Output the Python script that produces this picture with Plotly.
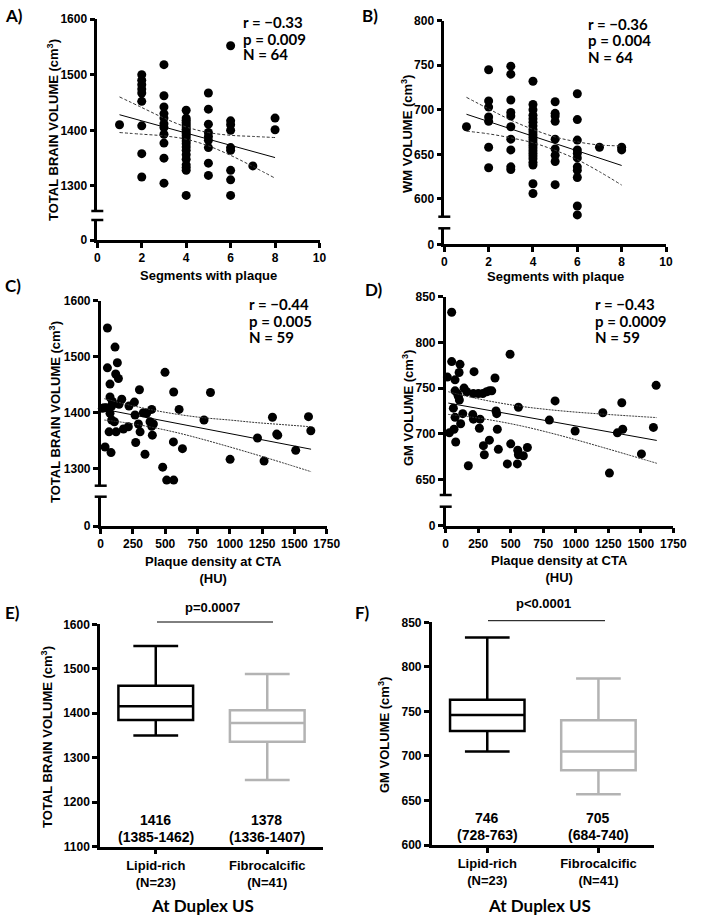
import plotly.graph_objects as go

W, H = 703, 917

# ---------------- data ----------------
# Panel A: segments with plaque vs total brain volume
A_segments = ([1] + [2]*9 + [3]*11 + [4]*21 + [5]*9 + [6]*10 + [7] + [8]*2)
A_tbv = ([1410]
         + [1500, 1490, 1482, 1474, 1467, 1452, 1408, 1358, 1316]
         + [1518, 1462, 1442, 1430, 1422, 1412, 1405, 1393, 1377, 1350, 1305]
         + [1436, 1422, 1418, 1414, 1410, 1406, 1402, 1398, 1394, 1390, 1386,
            1381, 1376, 1370, 1364, 1356, 1348, 1338, 1333, 1328, 1283]
         + [1467, 1438, 1411, 1396, 1389, 1382, 1369, 1341, 1319]
         + [1552, 1417, 1410, 1400, 1369, 1364, 1328, 1311, 1283, 1250]
         + [1336]
         + [1422, 1401])
A_fit_x = [1, 2, 3, 4, 5, 6, 7, 8]
A_fit = [1428, 1417, 1406, 1395, 1384, 1373, 1362, 1351]
A_upper = [1460, 1441, 1422, 1406, 1396, 1391, 1389, 1387]
A_lower = [1396, 1393, 1390, 1384, 1372, 1355, 1335, 1314]

# Panel B: segments with plaque vs WM volume
B_segments = ([1] + [2]*7 + [3]*10 + [4]*23 + [5]*9 + [6]*11 + [7] + [8]*2)
B_wm = ([681]
        + [745, 710, 703, 692, 687, 658, 635]
        + [749, 740, 711, 697, 693, 681, 667, 655, 636, 633]
        + [732, 706, 700, 694, 690, 686, 682, 678, 675, 672, 669, 666, 663,
           660, 657, 654, 651, 648, 645, 641, 638, 617, 606]
        + [709, 696, 693, 687, 667, 656, 649, 642, 616]
        + [718, 689, 666, 655, 651, 646, 636, 632, 624, 592, 582]
        + [658]
        + [658, 655])
B_fit_x = [1, 2, 3, 4, 5, 6, 7, 8]
B_fit = [695, 686.8, 678.5, 670.3, 662, 653.8, 645.7, 637.5]
B_upper = [714, 701, 688.5, 678, 669.5, 664, 660.5, 659.5]
B_lower = [676, 673, 668.5, 663, 654.5, 644, 630.5, 615.5]

# Panel C: plaque density vs total brain volume
C_hu = [52, 111, 129, 52, 116, 137, 72, 300, 498, 565,
        850, 72, 163, 142, 219, 261, 85, 13, 46, 607,
        395, 330, 356, 266, 72, 85, 106, 176, 214, 292,
        382, 395, 408, 65, 119, 305, 400, 800, 1330, 1609,
        1627, 1363, 1371, 1214, 271, 563, 34, 633, 1510, 80,
        343, 1002, 1265, 480, 511, 565, 558, 28, 90]
C_tbv = [1551, 1517, 1489, 1480, 1469, 1461, 1451, 1441, 1472, 1437,
         1436, 1428, 1424, 1415, 1412, 1419, 1412, 1408, 1409, 1406,
         1406, 1400, 1399, 1396, 1399, 1387, 1384, 1371, 1375, 1380,
         1384, 1376, 1380, 1366, 1366, 1366, 1360, 1387, 1392, 1393,
         1368, 1362, 1360, 1355, 1347, 1348, 1339, 1336, 1333, 1329,
         1326, 1317, 1314, 1303, 1280, 1280, 1248, 1409, 1420]
C_fit_x = [28, 200, 400, 600, 800, 1000, 1200, 1400, 1629]
C_fit = [1406, 1398.4, 1389.5, 1380.6, 1371.8, 1362.9, 1354, 1345.2, 1335]
C_upper = [1425, 1415, 1405, 1397, 1391, 1387, 1382.5, 1379, 1375]
C_lower = [1387, 1382, 1374, 1364, 1352, 1339, 1325.5, 1311.5, 1295]

# Panel D: plaque density vs GM volume
D_hu = [495, 46, 110, 103, 218, 379, 13, 72, 141, 72,
        162, 97, 105, 213, 251, 285, 315, 336, 354, 559,
        841, 1354, 1618, 59, 131, 208, 387, 392, 72, 264,
        115, 1208, 797, 64, 397, 259, 1361, 1597, 28, 995,
        1320, 77, 336, 290, 500, 405, 554, 628, 297, 559,
        597, 174, 474, 551, 1259, 1505, 46, 90, 213]
D_gm = [787, 779, 776, 767, 768, 761, 762, 759, 750, 747,
        746, 741, 737, 744, 744, 744, 746, 747, 747, 729,
        736, 734, 753, 728, 722, 721, 725, 722, 718, 716,
        711, 723, 715, 705, 705, 706, 705, 707, 701, 703,
        701, 691, 693, 687, 689, 683, 682, 685, 677, 677,
        676, 665, 667, 667, 657, 678, 833, 744, 716]
D_fit_x = [20, 200, 400, 600, 800, 1000, 1200, 1400, 1623]
D_fit = [733.6, 729.0, 723.9, 718.8, 713.7, 708.6, 703.5, 698.4, 692.7]
D_upper = [746, 739.8, 734.1, 729.6, 726.3, 723.7, 721.6, 719.7, 717.7]
D_lower = [721.2, 718.2, 713.7, 708, 701.1, 693.5, 685.4, 677.1, 667.7]

# Panels E/F: box plots at Duplex US
groups = ["Lipid-rich", "Fibrocalcific"]
group_n = ["(N=23)", "(N=41)"]
E_q1 = [1385, 1336]
E_median = [1416, 1378]
E_q3 = [1462, 1407]
E_min = [1350, 1250]
E_max = [1551, 1488]
F_q1 = [728, 684]
F_median = [746, 705]
F_q3 = [763, 740]
F_min = [705, 657]
F_max = [833, 787]

seg_ticks = [0, 2, 4, 6, 8, 10]
hu_ticks = [0, 250, 500, 750, 1000, 1250, 1500, 1750]

# ---------------- helpers ----------------
ARIAL = "Liberation Sans, Arial, sans-serif"
CAL = "Lato, Carlito, sans-serif"
TICKFONT = dict(family=ARIAL, size=12, color="black", weight="bold")
GRAY = "#b3b3b3"


def dx(l, r):
    return [l / W, r / W]


def dy(t, b):
    return [1 - b / H, 1 - t / H]


def px(p):
    return p / W


def py(p):
    return 1 - p / H


AX = dict(showline=True, linewidth=2.5, linecolor="black", ticks="outside",
          ticklen=5, tickwidth=2.5, tickcolor="black", showgrid=False,
          zeroline=False, tickfont=TICKFONT, fixedrange=True,
          automargin=False)


def aname(kind, i):
    return kind + ("" if i == 1 else str(i))


fig = go.Figure()
layout = {}
shapes = []
annots = []


def scatter_panel(i, xdom, up, low, xrange, xticks, yrange, yticks,
                  xs, ys, fx, fy, fu, fl, dash):
    xi, ylo, yup = i, 2 * i - 1, 2 * i
    xref, ylref, yuref = aname("x", xi), aname("y", ylo), aname("y", yup)
    layout[aname("xaxis", xi)] = dict(AX, domain=dx(*xdom), range=xrange,
                                     tickvals=xticks, anchor=ylref)
    layout[aname("yaxis", ylo)] = dict(AX, domain=dy(*low), range=[0, 1],
                                      tickvals=[0], anchor=xref)
    layout[aname("yaxis", yup)] = dict(AX, domain=dy(*up), range=yrange,
                                      tickvals=yticks, anchor=xref)
    fig.add_trace(go.Scatter(x=[], y=[], xaxis=xref, yaxis=ylref,
                             showlegend=False, hoverinfo="skip"))
    fig.add_trace(go.Scatter(x=xs, y=ys, mode="markers", xaxis=xref,
                             yaxis=yuref, cliponaxis=False,
                             marker=dict(size=9, color="black"),
                             showlegend=False))
    fig.add_trace(go.Scatter(x=fx, y=fy, mode="lines", xaxis=xref,
                             yaxis=yuref, line=dict(color="black", width=1),
                             showlegend=False))
    for band in (fu, fl):
        fig.add_trace(go.Scatter(x=fx, y=band, mode="lines", xaxis=xref,
                                 yaxis=yuref, line_shape="spline",
                                 line=dict(color="#333", width=1, dash=dash),
                                 showlegend=False))
    # axis break caps
    xa = xdom[0]
    for yy in (up[1], low[0]):
        shapes.append(dict(type="line", xref="paper", yref="paper",
                           x0=px(xa - 6), x1=px(xa + 6), y0=py(yy), y1=py(yy),
                           line=dict(color="black", width=2.5)))


scatter_panel(1, (97.3, 319.5), (19, 211), (220, 240), [0, 10], seg_ticks,
              [1255, 1600], [1300, 1400, 1500, 1600], A_segments, A_tbv,
              A_fit_x, A_fit, A_upper, A_lower, "3px,2px")
scatter_panel(2, (444.3, 666), (20.7, 216.7), (228.3, 244.3), [0, 10],
              seg_ticks, [580, 800], [600, 650, 700, 750, 800], B_segments,
              B_wm, B_fit_x, B_fit, B_upper, B_lower, "3px,2px")
scatter_panel(3, (100.7, 326.7), (300.5, 485.7), (496.7, 526), [0, 1750],
              hu_ticks, [1270, 1600], [1300, 1400, 1500, 1600], C_hu, C_tbv,
              C_fit_x, C_fit, C_upper, C_lower, "2px,1px")
scatter_panel(4, (445.7, 673.3), (296.7, 495), (506.7, 525.7), [0, 1750],
              hu_ticks, [633, 850], [650, 700, 750, 800, 850], D_hu, D_gm,
              D_fit_x, D_fit, D_upper, D_lower, "2px,1px")


def box_panel(xi, yi, xdom, ydom, yrange, yticks, q1, med, q3, lo, hi):
    xref, yref = aname("x", xi), aname("y", yi)
    layout[aname("xaxis", xi)] = dict(
        AX, domain=dx(*xdom), range=[-0.5, 1.5], tickvals=[0, 1],
        ticktext=[g + "<br>" + n for g, n in zip(groups, group_n)],
        tickfont=dict(family=ARIAL, size=13, color="black", weight="bold"),
        anchor=yref)
    layout[aname("yaxis", yi)] = dict(AX, domain=dy(*ydom), range=yrange,
                                     tickvals=yticks, anchor=xref)
    for k, col in enumerate(["black", GRAY]):
        fig.add_trace(go.Box(x=[k], q1=[q1[k]], median=[med[k]], q3=[q3[k]],
                             lowerfence=[lo[k]], upperfence=[hi[k]],
                             width=0.67, whiskerwidth=0.6, boxpoints=False,
                             fillcolor="white",
                             line=dict(color=col, width=2.5),
                             xaxis=xref, yaxis=yref, showlegend=False))


box_panel(5, 9, (100, 323), (624.3, 846.7), [1100, 1600],
          [1100, 1200, 1300, 1400, 1500, 1600],
          E_q1, E_median, E_q3, E_min, E_max)
box_panel(6, 10, (431.7, 654), (622.3, 845), [600, 850],
          [600, 650, 700, 750, 800, 850],
          F_q1, F_median, F_q3, F_min, F_max)

# significance lines
shapes.append(dict(type="line", xref="paper", yref="paper", x0=px(157),
                   x1=px(273), y0=py(622), y1=py(622),
                   line=dict(color="black", width=1)))
shapes.append(dict(type="line", xref="paper", yref="paper", x0=px(488),
                   x1=px(605), y0=py(620.7), y1=py(620.7),
                   line=dict(color="black", width=1)))


def txt(text, x, y, font, xanchor="center", angle=0):
    annots.append(dict(text=text, x=px(x), y=py(y), xref="paper",
                       yref="paper", showarrow=False, xanchor=xanchor,
                       yanchor="middle", textangle=angle, font=font))


LBL = dict(family=CAL, size=17, color="black", weight="bold")
STAT = dict(family=CAL, size=15, color="black", weight="bold")
TITLE = dict(family=ARIAL, size=13, color="black", weight="bold")
NUM = dict(family=ARIAL, size=14, color="black", weight="bold")
DUP = dict(family=CAL, size=17, color="black", weight="bold")

# panel letters
for t, x, y in [("A)", 3, 15.5), ("B)", 360, 15), ("C)", 3, 285),
                ("D)", 363, 290), ("E)", 3, 612), ("F)", 353, 612)]:
    txt(t, x, y, LBL, xanchor="left")

# correlation stats
stats = [(240.7, [21.7, 38.5, 54.3], ["r = \u22120.33", "p = 0.009", "N = 64"]),
         (586, [24, 40.5, 56.7], ["r = \u22120.36", "p = 0.004", "N = 64"]),
         (247, [304.5, 320.7, 336.7], ["r = \u22120.44", "p = 0.005", "N = 59"]),
         (592.7, [304.5, 320.7, 336.7], ["r = \u22120.43", "p = 0.0009", "N = 59"])]
for x, ys, lines in stats:
    for yy, s in zip(ys, lines):
        txt(s, x, yy, STAT, xanchor="left")

# y-axis titles
cm3 = " (cm<sup>3</sup>)"
txt("TOTAL BRAIN VOLUME" + cm3, 53, 130, TITLE, angle=-90)
txt("WM VOLUME" + cm3, 407, 134, TITLE, angle=-90)
txt("TOTAL BRAIN VOLUME" + cm3, 55, 412, TITLE, angle=-90)
txt("GM VOLUME" + cm3, 408, 408, TITLE, angle=-90)
txt("TOTAL BRAIN VOLUME" + cm3, 47, 737, TITLE, angle=-90)
txt("GM VOLUME" + cm3, 384, 735, TITLE, angle=-90)

# x-axis titles
txt("Segments with plaque", 208.5, 275, TITLE)
txt("Segments with plaque", 555, 276.7, TITLE)
txt("Plaque density at CTA<br>(HU)", 213.7, 570, TITLE)
txt("Plaque density at CTA<br>(HU)", 559.5, 569, TITLE)

# box summaries
for k, xc in enumerate([155.7, 266.7]):
    txt(str(E_median[k]), xc, 820, NUM)
    txt("(%d-%d)" % (E_q1[k], E_q3[k]), xc, 836.7, NUM)
for k, xc in enumerate([487.3, 598.3]):
    txt(str(F_median[k]), xc, 818.3, NUM)
    txt("(%d-%d)" % (F_q1[k], F_q3[k]), xc, 835, NUM)

txt("p=0.0007", 212.5, 607, TITLE)
txt("p&lt;0.0001", 543, 603, TITLE)
txt("At Duplex US", 202.5, 905.5, DUP)
txt("At Duplex US", 539, 905.5, DUP)

fig.update_layout(template="none", width=W, height=H, autosize=False,
                  margin=dict(l=0, r=0, t=0, b=0, autoexpand=False),
                  paper_bgcolor="white", plot_bgcolor="white",
                  showlegend=False, shapes=shapes, annotations=annots,
                  **layout)

fig.write_html("out.html", config={"displayModeBar": False},
               post_script="document.body.style.margin='0';"
                           "document.body.style.overflow='hidden';")
